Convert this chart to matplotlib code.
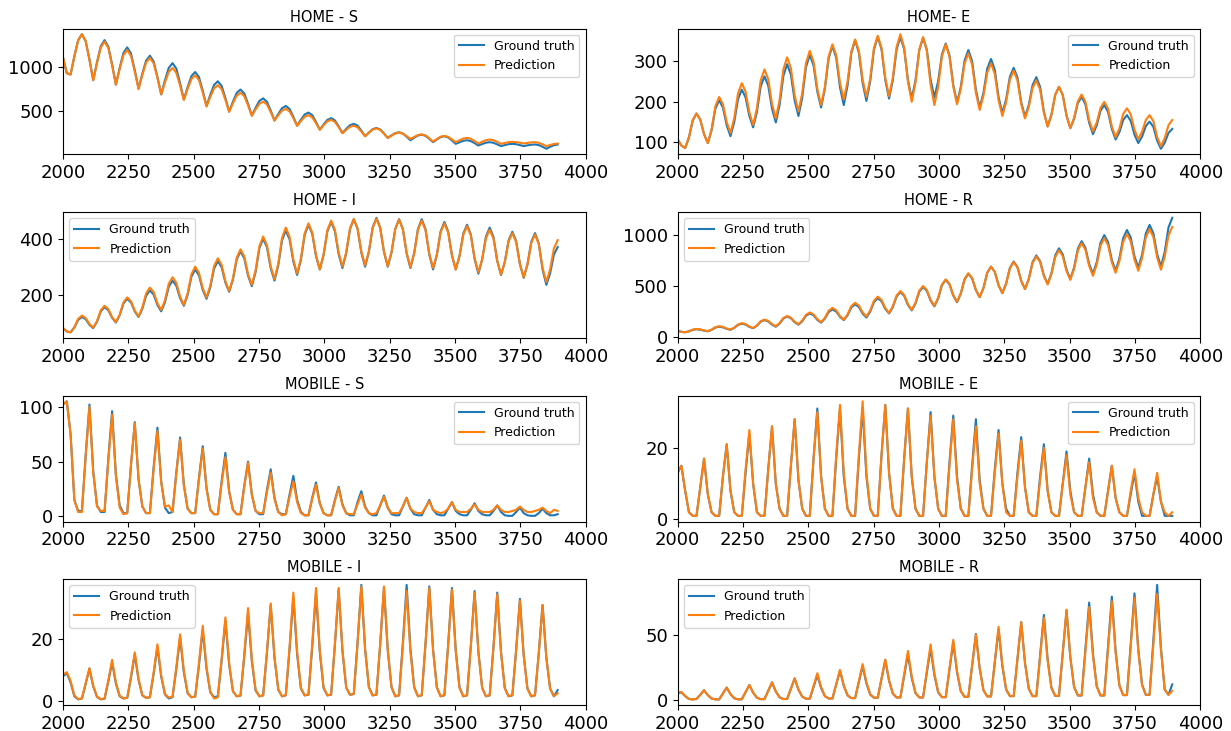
import matplotlib
matplotlib.use("Agg")
import matplotlib.pyplot as plt
import numpy as np
from matplotlib.ticker import MultipleLocator

# time axis shared by every series
t = 2000 + 14.45 * np.arange(132)

home_s_true = [1110, 930,
    915, 1122, 1306, 1375, 1296, 1086,
    850, 1056, 1239, 1308, 1232, 1029,
    800, 991, 1161, 1225, 1155, 966,
    755, 924, 1074, 1130, 1064, 887,
    688, 849, 991, 1045, 983, 817,
    630, 771, 897, 944, 886, 731,
    556, 683, 796, 838, 786, 648,
    492, 605, 706, 744, 699, 581,
    447, 535, 614, 643, 605, 504,
    391, 465, 531, 556, 522, 432,
    331, 399, 459, 481, 452, 374,
    286, 345, 397, 417, 392, 324,
    248, 295, 337, 353, 332, 275,
    211, 253, 291, 305, 288, 243,
    192, 221, 246, 256, 242, 206,
    165, 194, 219, 229, 216, 182,
    143, 174, 201, 211, 198, 163,
    124, 142, 159, 165, 156, 132,
    105, 122, 137, 143, 136, 118,
    98, 110, 120, 124, 120, 110,
    98, 107, 114, 117, 110, 90,
    68, 90, 108, 117]
home_s_pred = [1110, 930,
    915, 1122, 1306, 1375, 1296, 1086,
    850, 1048, 1224, 1290, 1217, 1020,
    800, 978, 1136, 1195, 1128, 950,
    750, 910, 1052, 1105, 1043, 877,
    690, 825, 945, 990, 935, 789,
    625, 751, 864, 906, 853, 710,
    550, 659, 757, 793, 748, 626,
    490, 588, 674, 707, 668, 563,
    445, 517, 581, 605, 573, 487,
    390, 450, 503, 523, 494, 417,
    330, 384, 433, 451, 426, 360,
    285, 336, 381, 398, 375, 314,
    245, 284, 318, 331, 313, 264,
    210, 251, 287, 300, 284, 240,
    190, 218, 243, 252, 241, 212,
    180, 203, 224, 232, 220, 187,
    150, 179, 205, 215, 204, 175,
    143, 165, 185, 192, 182, 157,
    128, 148, 166, 173, 166, 146,
    124, 134, 144, 147, 144, 137,
    128, 135, 141, 143, 136, 118,
    98, 111, 123, 128]

home_e_true = [107, 92,
    86, 112, 154, 171, 156, 120,
    98, 130, 183, 204, 186, 142,
    115, 150, 207, 230, 211, 165,
    137, 175, 238, 263, 240, 183,
    149, 192, 264, 293, 267, 203,
    165, 210, 286, 316, 290, 225,
    186, 232, 308, 338, 309, 236,
    192, 240, 320, 352, 322, 247,
    202, 250, 329, 361, 330, 254,
    208, 254, 330, 360, 330, 254,
    208, 253, 328, 358, 329, 255,
    211, 251, 317, 344, 315, 242,
    198, 237, 302, 328, 300, 229,
    186, 222, 282, 306, 279, 212,
    172, 206, 262, 284, 260, 199,
    163, 192, 241, 261, 237, 176,
    139, 168, 217, 237, 217, 166,
    135, 158, 197, 212, 194, 148,
    120, 142, 178, 192, 175, 133,
    107, 125, 155, 167, 153, 119,
    98, 114, 140, 151, 138, 104,
    84, 99, 123, 133]
home_e_pred = [107, 92,
    86, 112, 154, 171, 156, 120,
    98, 132, 189, 212, 194, 150,
    123, 160, 221, 246, 225, 174,
    143, 184, 253, 280, 256, 195,
    159, 204, 280, 310, 283, 216,
    176, 221, 296, 326, 299, 232,
    192, 237, 312, 342, 315, 247,
    206, 250, 324, 354, 326, 255,
    212, 257, 333, 363, 333, 259,
    214, 260, 336, 367, 334, 250,
    200, 248, 328, 360, 326, 242,
    192, 237, 312, 342, 312, 238,
    194, 232, 295, 320, 292, 222,
    180, 215, 272, 295, 269, 204,
    165, 199, 255, 277, 253, 194,
    159, 187, 234, 253, 230, 173,
    139, 168, 217, 237, 217, 166,
    135, 160, 201, 218, 200, 154,
    127, 149, 185, 200, 183, 139,
    113, 134, 170, 184, 169, 131,
    108, 126, 155, 167, 152, 113,
    90, 110, 142, 155]

home_i_true = [80, 68,
    65, 82, 109, 120, 112, 92,
    80, 103, 140, 155, 144, 117,
    100, 126, 168, 185, 172, 140,
    120, 149, 196, 215, 200, 163,
    140, 173, 228, 250, 232, 187,
    160, 199, 264, 290, 269, 217,
    185, 226, 293, 320, 298, 243,
    210, 254, 326, 355, 330, 268,
    230, 281, 366, 400, 370, 295,
    250, 304, 394, 430, 398, 318,
    270, 324, 414, 450, 418, 338,
    290, 341, 426, 460, 427, 344,
    295, 348, 435, 470, 436, 351,
    300, 353, 440, 475, 440, 353,
    300, 351, 436, 470, 435, 348,
    295, 348, 435, 470, 434, 344,
    290, 341, 426, 460, 426, 341,
    290, 338, 418, 450, 415, 328,
    275, 325, 407, 440, 406, 321,
    270, 317, 394, 425, 392, 310,
    260, 308, 388, 420, 383, 290,
    235, 276, 343, 370]
home_i_pred = [80, 68,
    65, 83, 113, 125, 116, 95,
    82, 105, 144, 160, 148, 119,
    102, 128, 172, 190, 176, 142,
    122, 153, 204, 225, 209, 169,
    145, 180, 239, 262, 242, 193,
    163, 204, 273, 300, 278, 223,
    190, 232, 302, 330, 307, 248,
    213, 258, 332, 362, 337, 273,
    235, 287, 373, 408, 377, 301,
    255, 311, 403, 440, 407, 325,
    275, 329, 419, 455, 422, 340,
    290, 343, 430, 465, 432, 350,
    300, 351, 436, 470, 437, 355,
    305, 355, 439, 472, 438, 353,
    302, 352, 435, 468, 434, 349,
    298, 348, 432, 465, 431, 346,
    295, 343, 423, 455, 422, 340,
    290, 337, 414, 445, 412, 330,
    280, 326, 402, 432, 400, 320,
    272, 316, 390, 420, 388, 309,
    262, 308, 384, 415, 381, 296,
    245, 290, 365, 395]

home_r_true = [60, 50,
    45, 54, 69, 75, 71, 61,
    55, 69, 91, 100, 94, 79,
    70, 88, 118, 130, 121, 99,
    85, 109, 149, 165, 152, 120,
    100, 130, 180, 200, 184, 144,
    120, 153, 208, 230, 212, 167,
    140, 179, 244, 270, 249, 197,
    165, 212, 289, 320, 294, 229,
    190, 247, 342, 380, 350, 275,
    230, 293, 398, 440, 404, 314,
    260, 329, 444, 490, 452, 357,
    300, 378, 508, 560, 516, 406,
    340, 424, 564, 620, 574, 459,
    390, 480, 630, 690, 638, 508,
    430, 523, 678, 740, 686, 551,
    470, 569, 734, 800, 744, 604,
    520, 625, 800, 870, 810, 660,
    570, 681, 866, 940, 876, 716,
    620, 734, 924, 1000, 930, 755,
    650, 770, 970, 1050, 976, 791,
    680, 806, 1016, 1100, 1018, 813,
    690, 834, 1074, 1170]
home_r_pred = [60, 50,
    45, 55, 71, 78, 74, 63,
    57, 71, 95, 105, 98, 82,
    72, 91, 122, 135, 126, 102,
    88, 113, 154, 170, 157, 125,
    105, 135, 185, 205, 189, 149,
    125, 160, 217, 240, 221, 174,
    145, 187, 257, 285, 262, 204,
    170, 220, 302, 335, 308, 241,
    200, 259, 356, 395, 363, 283,
    235, 300, 407, 450, 413, 321,
    265, 336, 453, 500, 461, 364,
    305, 383, 513, 565, 521, 411,
    345, 429, 569, 625, 578, 461,
    390, 480, 630, 690, 638, 508,
    430, 522, 674, 735, 682, 550,
    470, 566, 726, 790, 735, 598,
    515, 616, 783, 850, 792, 647,
    560, 668, 848, 920, 856, 696,
    600, 711, 896, 970, 902, 732,
    630, 744, 934, 1010, 938, 758,
    650, 773, 978, 1060, 980, 780,
    660, 786, 996, 1080]

mobile_s_true = [102,
    105, 75, 15, 5, 5, 56,
    102, 41, 10, 4, 4, 53,
    96, 38, 10, 3, 3, 47,
    86, 34, 9, 3, 3, 45,
    81, 32, 8, 3, 4, 40,
    72, 29, 7, 3, 3, 35,
    64, 26, 6, 2, 2, 32,
    58, 23, 6, 2, 2, 28,
    50, 20, 5, 2, 2, 24,
    43, 17, 4, 2, 2, 20,
    37, 15, 4, 1, 1, 17,
    31, 12, 3, 1, 1, 15,
    27, 11, 3, 1, 1, 13,
    23, 9, 3, 1, 1, 10,
    19, 8, 2, 1, 1, 9,
    17, 7, 2, 1, 1, 8,
    15, 6, 2, 1, 1, 7,
    13, 5, 2, 1, 1, 6,
    12, 5, 2, 1, 1, 5,
    10, 4, 1, 0.5, 0.5, 4,
    8, 3, 1, 0.5, 0.5, 3,
    7, 3, 1, 1, 2]
mobile_s_pred = [102,
    105, 75, 15, 4, 4, 55,
    100, 40, 9, 5, 5, 51,
    93, 37, 8, 2, 3, 47,
    85, 34, 9, 3, 3, 43,
    78, 31, 9, 10, 4, 39,
    70, 28, 7, 3, 3, 34,
    62, 25, 6, 2, 2, 30,
    54, 22, 6, 2, 2, 27,
    49, 20, 5, 3, 3, 22,
    40, 16, 4, 1, 2, 18,
    32, 13, 3, 1, 1, 16,
    29, 12, 3, 1, 1, 14,
    26, 10, 3, 2, 2, 11,
    20, 8, 3, 2, 3, 10,
    18, 8, 3, 3, 3, 9,
    17, 7, 4, 3, 3, 8,
    14, 6, 4, 3, 4, 7,
    13, 6, 4, 4, 4, 7,
    11, 6, 4, 4, 4, 6,
    10, 6, 4, 4, 5, 6,
    9, 6, 4, 4, 5, 6,
    8, 5, 3, 6, 5]

mobile_e_true = [13,
    15, 8, 2, 1, 1, 9,
    17, 7, 2, 1, 1, 12,
    21, 8, 2, 1, 1, 13,
    24, 10, 2, 1, 1, 14,
    26, 10, 3, 1, 1, 15,
    28, 11, 3, 1, 1, 17,
    31, 12, 3, 1, 1, 17,
    31, 12, 3, 1, 1, 17,
    31, 12, 3, 1, 1, 18,
    32, 13, 3, 1, 1, 17,
    31, 12, 3, 1, 1, 16,
    30, 12, 3, 1, 1, 16,
    29, 12, 3, 1, 1, 15,
    28, 11, 3, 1, 1, 14,
    25, 10, 3, 1, 1, 13,
    23, 9, 2, 1, 1, 12,
    21, 8, 2, 1, 1, 10,
    19, 8, 2, 1, 1, 9,
    17, 7, 2, 1, 1, 8,
    15, 6, 2, 1, 1, 7,
    13, 5, 1, 1, 1, 7,
    12, 5, 1, 1, 1]
mobile_e_pred = [13,
    15, 8, 2, 1, 1, 9,
    17, 7, 2, 1, 1, 12,
    21, 8, 2, 1, 1, 14,
    25, 10, 2, 1, 1, 14,
    26, 10, 3, 1, 1, 15,
    28, 11, 3, 1, 1, 17,
    30, 12, 3, 1, 1, 18,
    32, 13, 3, 1, 1, 18,
    33, 13, 3, 1, 1, 18,
    32, 13, 3, 1, 1, 17,
    31, 12, 3, 1, 1, 16,
    29, 12, 3, 1, 1, 15,
    28, 11, 3, 1, 1, 14,
    26, 10, 3, 1, 1, 13,
    24, 10, 2, 1, 1, 12,
    22, 9, 2, 1, 1, 11,
    20, 8, 2, 1, 1, 10,
    18, 7, 2, 1, 1, 9,
    16, 6, 2, 1, 1, 8,
    15, 6, 2, 1, 1, 8,
    14, 6, 2, 1, 1, 7,
    13, 5, 2, 1, 2]

mobile_i_true = [8, 9, 6, 1.5, 0.5, 0.8, 5.5,
    10.5, 4.7, 1.3, 0.5, 0.7, 6.3,
    12.5, 5.6, 1.5, 0.8, 1, 7.5,
    15, 6.8, 1.8, 1, 1.2, 8.8,
    17.5, 7.9, 2.1, 0.8, 1.2, 10.3,
    20.5, 9.2, 2.5, 1.2, 1.4, 11.5,
    23, 10.4, 2.8, 1.2, 1.5, 13,
    26, 11.7, 3.1, 1.5, 1.7, 14.3,
    28.5, 12.8, 3.4, 1.5, 1.8, 15.5,
    31, 14, 3.7, 1.5, 1.8, 16.8,
    33.5, 15.1, 4, 1.8, 2, 17.5,
    35, 15.8, 4.2, 1.8, 2, 18,
    36, 16.2, 4.3, 2, 2.2, 18.8,
    37.5, 16.9, 4.5, 1.8, 2, 18.3,
    36.5, 16.4, 4.4, 1.5, 1.8, 18.8,
    37.5, 16.9, 4.5, 1.5, 1.8, 18.5,
    37, 16.7, 4.4, 1.5, 1.8, 18.3,
    36.5, 16.4, 4.4, 1.5, 1.8, 17.8,
    35.5, 16, 4.3, 1.5, 1.8, 17.5,
    35, 15.8, 4.2, 1.5, 1.8, 16.5,
    33, 14.9, 4, 1.5, 1.8, 15.5,
    31, 14, 4, 1.5, 3.5]
mobile_i_pred = [8.5, 9.3, 6.5, 1.8, 0.6, 0.8, 5.8,
    10.5, 4.9, 1.4, 0.6, 0.8, 6.7,
    13.3, 6, 1.7, 0.8, 1, 7.9,
    15.7, 7.1, 1.9, 1, 1.2, 9.2,
    18.3, 8.2, 2.2, 1.1, 1.3, 10.8,
    21.5, 9.7, 2.6, 1.2, 1.4, 12.2,
    24.3, 10.9, 2.9, 0.8, 1.2, 13.5,
    27, 12.2, 3.2, 1.5, 1.8, 15,
    30, 13.5, 3.6, 1.5, 1.8, 15.8,
    31.5, 14.2, 3.8, 1.5, 1.9, 17.5,
    35, 15.8, 4.2, 1.8, 2.1, 18.3,
    36.5, 16.4, 4.4, 1.8, 2.1, 18.3,
    36.5, 16.4, 4.4, 2, 2.3, 18.5,
    37, 16.7, 4.4, 1.8, 2.1, 18.5,
    37, 16.7, 4.4, 1.5, 1.9, 17.8,
    35.5, 16, 4.3, 1.5, 1.9, 18.3,
    36.5, 16.4, 4.4, 1.5, 1.9, 18,
    36, 16.2, 4.3, 1.5, 1.9, 17.5,
    35, 15.8, 4.2, 1.5, 1.9, 17.3,
    34.5, 15.5, 4.1, 1.5, 1.9, 16.3,
    32.5, 14.6, 3.9, 1.5, 1.9, 15.5,
    31, 14, 4, 1.5, 2.5]

mobile_r_true = [5, 6, 3, 0.8, 0.5, 0.8, 4,
    7.5, 3.7, 1.2, 0.5, 0.5, 5,
    9.5, 4.6, 1.4, 0.5, 0.6, 6,
    11.5, 5.6, 1.8, 0.7, 0.7, 7.1,
    13.5, 6.5, 2.1, 0.8, 0.8, 8.7,
    16.5, 8, 2.6, 1, 1, 10,
    19, 9.2, 3, 1.2, 1.2, 11.9,
    22.5, 11, 3.6, 1.5, 1.5, 13.8,
    26, 12.7, 4.2, 1.8, 1.8, 16.2,
    30.5, 14.8, 4.9, 2, 2, 18.5,
    35, 16.9, 5.3, 2, 2, 20.8,
    39.5, 19, 5.9, 2.2, 2.2, 23.1,
    44, 21.2, 6.7, 2.5, 2.5, 26.5,
    50.5, 24.3, 7.6, 2.8, 2.8, 28.4,
    54, 26, 8.1, 3, 3, 31.3,
    59.5, 28.4, 8.7, 3, 3, 34,
    65, 31, 9.4, 3.2, 3.2, 35.9,
    68.5, 32.8, 10, 3.5, 3.5, 39,
    74.5, 35.5, 10.6, 3.5, 3.5, 41.3,
    79, 37.6, 11.3, 3.8, 3.8, 42.7,
    81.5, 38.9, 11.8, 4, 4, 46,
    88, 40, 8, 4, 12]
mobile_r_pred = [5.5, 6.2, 3.2, 0.8, 0.5, 0.8, 4,
    7.5, 3.7, 1.2, 0.5, 0.5, 5,
    9.5, 4.6, 1.4, 0.5, 0.6, 6,
    11.5, 5.6, 1.8, 0.7, 0.7, 7.1,
    13.5, 6.5, 2.1, 0.8, 0.8, 8.7,
    16.5, 8, 2.6, 1, 1, 10.8,
    20.5, 9.9, 3.1, 1.2, 1.2, 12.1,
    23, 11.2, 3.7, 1.5, 1.5, 14.5,
    27.5, 13.4, 4.4, 1.8, 1.8, 16.4,
    31, 15.1, 4.9, 2, 2, 19.8,
    37.5, 18, 5.6, 2, 2, 22.3,
    42.5, 20.3, 6.2, 2.2, 2.2, 24.1,
    46, 22.1, 6.9, 2.5, 2.5, 26.3,
    50, 24, 7.5, 2.8, 2.8, 29.4,
    56, 26.9, 8.3, 3, 3, 31.3,
    59.5, 28.4, 8.7, 3, 3, 33,
    63, 30.1, 9.2, 3.2, 3.2, 36.1,
    69, 33, 10.1, 3.5, 3.5, 37.3,
    71, 33.9, 10.3, 3.5, 3.5, 39.5,
    75.5, 36.1, 11, 3.8, 3.8, 40.9,
    78, 37.3, 11.4, 4, 4, 42.5,
    81, 38.5, 8, 4, 7]

panels = [
    ('HOME - S', home_s_true, home_s_pred, 500, 'upper right'),
    ('HOME- E', home_e_true, home_e_pred, 100, 'upper right'),
    ('HOME - I', home_i_true, home_i_pred, 200, 'upper left'),
    ('HOME - R', home_r_true, home_r_pred, 500, 'upper left'),
    ('MOBILE - S', mobile_s_true, mobile_s_pred, 50, 'upper right'),
    ('MOBILE - E', mobile_e_true, mobile_e_pred, 20, 'upper right'),
    ('MOBILE - I', mobile_i_true, mobile_i_pred, 20, 'upper left'),
    ('MOBILE - R', mobile_r_true, mobile_r_pred, 50, 'upper left'),
]

fig, axes = plt.subplots(4, 2, figsize=(12.31, 7.31), dpi=100)
fig.subplots_adjust(left=0.0512, right=0.975, top=0.961, bottom=0.0354,
                    wspace=0.176, hspace=0.457)

for ax, (title, y_true, y_pred, ystep, loc) in zip(axes.flat, panels):
    ax.plot(t, y_true, color='#1f77b4', lw=1.5, label='Ground truth')
    ax.plot(t, y_pred, color='#ff7f0e', lw=1.5, label='Prediction')
    ax.set_title(title, fontsize=10.5, pad=5)
    ax.set_xlim(2000, 4000)
    ax.xaxis.set_major_locator(MultipleLocator(250))
    ax.yaxis.set_major_locator(MultipleLocator(ystep))
    ax.tick_params(labelsize=13)
    ax.legend(loc=loc, fontsize=9)

fig.savefig('out.png', dpi=100)
